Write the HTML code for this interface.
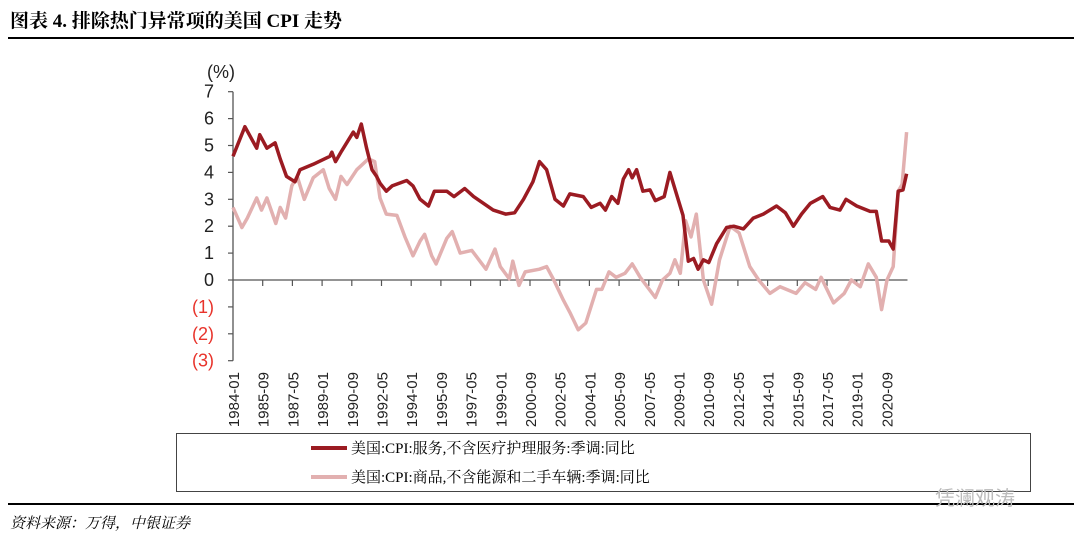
<!DOCTYPE html>
<html><head><meta charset="utf-8"><style>
body{margin:0;background:#fff;width:1080px;height:544px;overflow:hidden;position:relative;font-family:"Liberation Serif","Noto Serif CJK SC",serif}
.t{position:absolute}
</style></head><body>
<div class="t" style="left:10px;top:6px;font-size:19px;font-weight:bold;font-family:'Liberation Serif','Noto Serif CJK SC',serif">图表 4. 排除热门异常项的美国 CPI 走势</div>
<div class="t" style="left:8px;top:37px;width:1066px;height:1.5px;background:#000"></div>
<svg class="t" style="left:0;top:0" width="1080" height="544">
<g id="axes"></g><g id="series"></g>
</svg>
<div class="t" style="left:176px;top:433px;width:853px;height:57px;border:1px solid #444"></div>
<div class="t" style="left:311px;top:437px;font-size:15px;display:flex;align-items:center"><span style="display:inline-block;width:36px;height:4px;background:#9b1b22;margin-right:4px"></span>美国:CPI:服务,不含医疗护理服务:季调:同比</div>
<div class="t" style="left:311px;top:466px;font-size:15px;display:flex;align-items:center"><span style="display:inline-block;width:36px;height:4px;background:#e2b0b0;margin-right:4px"></span>美国:CPI:商品,不含能源和二手车辆:季调:同比</div>
<div class="t" style="left:8px;top:503px;width:1066px;height:1.5px;background:#000"></div>
<div class="t" style="left:10px;top:512px;font-size:15px;font-style:italic">资料来源：万得，中银证券</div>
<div class="t" style="left:935px;top:482px;font-size:20px;color:#bbb;font-family:'Liberation Sans','Noto Sans CJK SC',sans-serif">凭澜观涛</div>
<script>
const yTicks=[7,6,5,4,3,2,1,0,-1,-2,-3];
const xLabels=["1984-01","1985-09","1987-05","1989-01","1990-09","1992-05","1994-01","1995-09","1997-05","1999-01","2000-09","2002-05","2004-01","2005-09","2007-05","2009-01","2010-09","2012-05","2014-01","2015-09","2017-05","2019-01","2020-09"];
const svcT=[1984.0,1984.67,1985.33,1985.5,1985.9,1986.36,1986.65,1987.0,1987.48,1987.76,1988.5,1989.44,1989.55,1989.75,1990.1,1990.75,1990.95,1991.2,1991.5,1991.8,1992.06,1992.25,1992.6,1992.93,1993.75,1994.1,1994.5,1994.97,1995.3,1996.0,1996.4,1997.0,1997.5,1998.6,1999.3,1999.8,2000.3,2000.83,2001.2,2001.6,2002.07,2002.54,2002.9,2003.66,2004.1,2004.6,2004.9,2005.25,2005.6,2005.9,2006.2,2006.4,2006.65,2007.0,2007.4,2007.7,2008.2,2008.52,2009.0,2009.25,2009.55,2009.85,2010.1,2010.4,2010.7,2011.14,2011.7,2012.1,2012.64,2013.2,2013.76,2014.5,2015.0,2015.45,2015.9,2016.4,2017.1,2017.5,2018.06,2018.4,2019.0,2019.75,2020.1,2020.4,2020.8,2021.05,2021.33,2021.6,2021.8];
const svcV=[4.6,5.7,4.9,5.4,4.9,5.1,4.5,3.85,3.65,4.1,4.3,4.6,4.75,4.4,4.8,5.5,5.3,5.8,4.9,4.1,3.85,3.6,3.3,3.5,3.7,3.5,3.0,2.75,3.3,3.3,3.1,3.4,3.1,2.6,2.45,2.5,3.0,3.65,4.4,4.1,3.0,2.75,3.2,3.1,2.7,2.85,2.6,3.1,2.85,3.75,4.1,3.8,4.1,3.3,3.35,2.95,3.1,4.0,2.95,2.4,0.7,0.8,0.4,0.75,0.65,1.35,1.95,2.0,1.9,2.3,2.45,2.75,2.5,2.0,2.45,2.85,3.1,2.7,2.6,3.0,2.75,2.55,2.55,1.45,1.45,1.15,3.3,3.35,3.95];
const gdsT=[1984.0,1984.5,1984.8,1985.33,1985.6,1985.9,1986.4,1986.65,1986.95,1987.3,1987.6,1988.0,1988.5,1989.07,1989.4,1989.75,1990.06,1990.4,1990.95,1991.6,1991.95,1992.25,1992.6,1993.2,1993.65,1994.1,1994.5,1994.75,1995.15,1995.4,1996.0,1996.3,1996.75,1997.4,1998.2,1998.7,1999.0,1999.5,1999.7,2000.05,2000.4,2001.2,2001.6,2002.0,2002.54,2002.9,2003.37,2003.8,2004.4,2004.7,2005.1,2005.5,2006.0,2006.4,2006.85,2007.7,2008.1,2008.52,2008.8,2009.1,2009.4,2009.7,2010.0,2010.4,2010.86,2011.3,2011.9,2012.4,2013.0,2013.5,2014.13,2014.7,2015.6,2016.1,2016.7,2017.0,2017.7,2018.3,2018.7,2019.2,2019.65,2020.1,2020.4,2020.7,2021.05,2021.33,2021.55,2021.8];
const gdsV=[2.7,1.95,2.3,3.05,2.6,3.05,2.1,2.7,2.3,3.5,3.85,3.0,3.8,4.1,3.4,3.0,3.85,3.55,4.1,4.5,4.4,3.05,2.45,2.4,1.6,0.9,1.45,1.7,0.9,0.6,1.55,1.8,1.0,1.1,0.4,1.15,0.5,0.05,0.7,-0.2,0.3,0.4,0.5,0.0,-0.75,-1.2,-1.85,-1.6,-0.35,-0.35,0.3,0.1,0.25,0.6,0.1,-0.65,0.0,0.25,0.75,0.25,2.2,1.6,2.45,0.0,-0.9,0.75,2.0,1.75,0.5,0.0,-0.5,-0.25,-0.5,-0.1,-0.35,0.1,-0.85,-0.5,0.0,-0.25,0.6,0.1,-1.1,0.0,0.5,3.3,3.55,5.5];
const NS="http://www.w3.org/2000/svg";
const X0=233,Y0=280,PX_M=1.485,PX_U=26.9;
const xs=t=>X0+(t-1984)*12*PX_M;
const ys=v=>Y0-v*PX_U;
const ax=document.getElementById('axes'),se=document.getElementById('series');
function mk(tag,at,par){const e=document.createElementNS(NS,tag);for(const k in at)e.setAttribute(k,at[k]);par.appendChild(e);return e;}
let a=mk('line',{x1:X0,y1:ys(7),x2:X0,y2:ys(-3),stroke:'#555','stroke-width':1.3},ax);


let z=mk('line',{x1:X0,y1:Y0,x2:xs(2021.85),y2:Y0,stroke:'#555','stroke-width':1.3},ax);


yTicks.forEach(v=>{mk('line',{x1:X0-5,y1:ys(v),x2:X0,y2:ys(v),stroke:'#555','stroke-width':1.2},ax);
const t=mk('text',{x:X0-19,y:ys(v)+6,'text-anchor':'end','font-size':18,fill:v<0?'#e8332b':'#222','font-family':'Liberation Sans,sans-serif'},ax);
t.textContent=v<0?'('+(-v)+')':v;

});
const u=mk('text',{x:207,y:78,'font-size':18,fill:'#222','font-family':'Liberation Sans,sans-serif'},ax);u.textContent='(%)';


xLabels.forEach((l,i)=>{const p=l.split('-');const t0=+p[0]+(+p[1]-1)/12;const x=xs(t0);
if(i>0)mk('line',{x1:x,y1:Y0,x2:x,y2:Y0+6,stroke:'#555','stroke-width':1.2},ax);
const t=mk('text',{x:0,y:0,transform:`translate(${x+6},372) rotate(-90)`,'text-anchor':'end','font-size':15,fill:'#222','font-family':'Liberation Sans,sans-serif'},ax);
t.textContent=l;

});
function line(T,V,c,name){const p=mk('polyline',{points:T.map((t,i)=>xs(t).toFixed(1)+','+ys(V[i]).toFixed(1)).join(' '),fill:'none',stroke:c,'stroke-width':3.5,'stroke-linejoin':'round'},se);

}
line(gdsT,gdsV,'#e2b0b0','goods-cpi-line');
line(svcT,svcV,'#9b1b22','services-cpi-line');
</script>
</body></html>
